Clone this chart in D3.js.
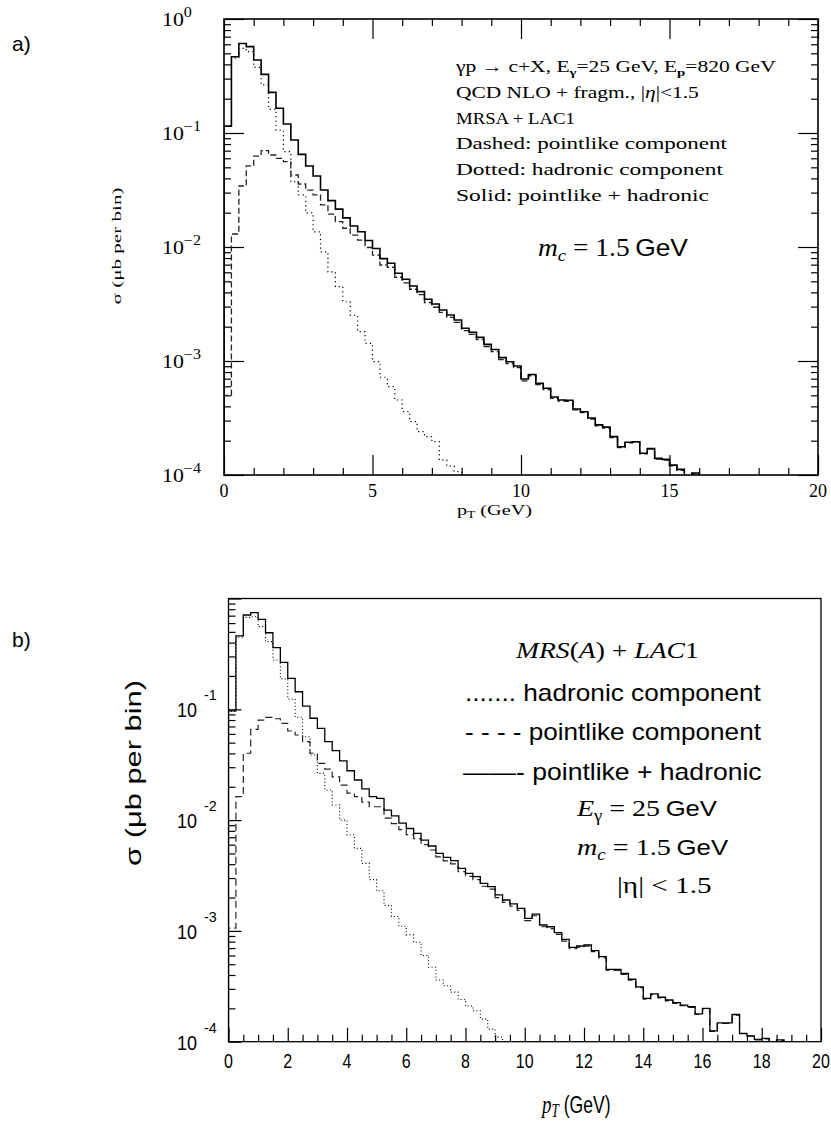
<!DOCTYPE html>
<html><head><meta charset="utf-8">
<script src="https://cdn.jsdelivr.net/npm/d3@7"></script>
<style>body{margin:0;background:#fff}</style>
</head><body>
<svg id="c" width="831" height="1128" xmlns="http://www.w3.org/2000/svg"></svg>
<script>
// ---------------- data ----------------
const binWidth = 0.25; // GeV
// panel a) sigma per bin (mu b), bins of 0.25 GeV starting at pT = 0
const aSolid = [0.115, 0.467, 0.61, 0.572, 0.437, 0.327, 0.227, 0.165, 0.120, 0.0868,
 0.065, 0.0514, 0.042, 0.0316, 0.0255, 0.0215, 0.0180, 0.0153, 0.0136, 0.0114,
 0.0097, 0.0079, 0.0072, 0.00588, 0.00521, 0.00455, 0.00406, 0.00348, 0.00316, 0.0028,
 0.00253, 0.00229, 0.00194, 0.00179, 0.00161, 0.0014, 0.00126, 0.00107, 0.000986, 0.000904,
 0.000695, 0.000762, 0.000637, 0.000576, 0.000483, 0.000455, 0.000452, 0.000379, 0.000359, 0.000316,
 0.000275, 0.000263, 0.000217, 0.000177, 0.000194, 0.000196, 0.000155, 0.000171, 0.00014, 0.000137,
 0.000122, 0.000112, 0.000098, 0.000104];
const aDashed = [0.0005, 0.0130, 0.0343, 0.0514, 0.0628, 0.070, 0.0641, 0.060, 0.0561, 0.0428,
 0.0357, 0.0316, 0.0286, 0.0234, 0.0194, 0.0167, 0.0146, 0.0127, 0.0115, 0.0099,
 0.0085, 0.00695, 0.00664, 0.00543, 0.00485, 0.00426, 0.00382, 0.00326, 0.00296, 0.00267,
 0.00241, 0.00218, 0.00185, 0.00171, 0.00154, 0.00134, 0.00121, 0.00103, 0.00095, 0.000874,
 0.00067, 0.000742, 0.00062, 0.00056, 0.00047, 0.000445, 0.000443, 0.000372, 0.000352, 0.00031,
 0.00027, 0.000258, 0.000213, 0.000174, 0.000191, 0.000193, 0.000153, 0.000169, 0.000138, 0.000135,
 0.00012, 0.00011, 0.000097, 0.000103];
const aDotted = [0.114, 0.454, 0.553, 0.517, 0.377, 0.264, 0.162, 0.106, 0.0686, 0.0374,
 0.0286, 0.0199, 0.0136, 0.00908, 0.00604, 0.00449, 0.00331, 0.00253, 0.00181, 0.00143,
 0.000986, 0.00072, 0.000596, 0.000455, 0.00036, 0.000294, 0.00024, 0.000217, 0.000196, 0.000135,
 0.00012, 0.000107];
// panel b)
const bSolid = [0.0966, 0.459, 0.71, 0.745, 0.649, 0.491, 0.36, 0.265, 0.19, 0.144,
 0.107, 0.083, 0.0674, 0.051, 0.0423, 0.0343, 0.0279, 0.023, 0.0191, 0.0163,
 0.0157, 0.0123, 0.0109, 0.0094, 0.0084, 0.0076, 0.0066, 0.00584, 0.00501, 0.00461,
 0.0043, 0.00367, 0.00331, 0.00309, 0.00269, 0.00251, 0.00211, 0.0019, 0.00175, 0.0016,
 0.0013, 0.00142, 0.00113, 0.00109, 0.000964, 0.00084, 0.000711, 0.000731, 0.000746, 0.000663,
 0.000585, 0.00045, 0.00045, 0.000414, 0.000366, 0.000313, 0.000246, 0.00027, 0.000252, 0.000238,
 0.000225, 0.000214, 0.000207, 0.000178, 0.0002, 0.000125, 0.000148, 0.000148, 0.000176, 0.000119,
 0.000113, 0.000105, 0.000107, 0.0000995, 0.000104];
const bDashed = [0.00106, 0.0163, 0.0401, 0.066, 0.080, 0.0847, 0.0822, 0.0747, 0.0637, 0.0586,
 0.051, 0.0401, 0.0325, 0.0289, 0.0246, 0.0207, 0.0175, 0.0163, 0.0145, 0.0132,
 0.0132, 0.0104, 0.0093, 0.0082, 0.0074, 0.0068, 0.0060, 0.00537, 0.00465, 0.00429,
 0.00402, 0.00343, 0.0031, 0.0029, 0.00253, 0.00238, 0.002, 0.00181, 0.00167, 0.00153,
 0.00124, 0.00137, 0.00109, 0.00105, 0.00093, 0.00081, 0.00069, 0.00071, 0.00073, 0.00065,
 0.00057, 0.00044, 0.00044, 0.000405, 0.00036, 0.000308, 0.000242, 0.000266, 0.000248, 0.000234,
 0.000222, 0.000211, 0.000204, 0.000176, 0.000198, 0.000124, 0.000146, 0.000146, 0.000174, 0.000118,
 0.000112, 0.000104, 0.000106, 0.0000985, 0.000103];
const bDotted = [0.0956, 0.447, 0.676, 0.685, 0.557, 0.408, 0.279, 0.188, 0.124, 0.0847,
 0.0566, 0.0387, 0.0264, 0.0187, 0.0137, 0.0100, 0.00734, 0.00556, 0.00407, 0.0029,
 0.0023, 0.0017, 0.00135, 0.0011, 0.00092, 0.00079, 0.0006, 0.00047, 0.00036, 0.00032,
 0.00028, 0.00024, 0.00021, 0.00019, 0.00016, 0.00013, 0.00011, 0.00009];

const aXTickLabels = [0, 5, 10, 15, 20];
const aYExponents = [0, -1, -2, -3, -4];
const bXTickLabels = [0, 2, 4, 6, 8, 10, 12, 14, 16, 18, 20];
const bYExponents = [-1, -2, -3, -4];

// ---------------- drawing ----------------
const svg = d3.select("#c");
svg.append("rect").attr("width", 831).attr("height", 1128).attr("fill", "#fff");
const SERIF = "'Liberation Serif','Times New Roman',serif";
const SANS = "'Liberation Sans',Arial,Helvetica,sans-serif";

function fit(t, target, ax) {
  const w = t.node().getBBox().width;
  const s = target / w;
  t.attr("transform", `translate(${ax},0) scale(${s},1) translate(${-ax},0)`);
}
function minorLog() {
  const v = [];
  for (let e = -4; e < 0; e++) for (let k = 2; k <= 9; k++) v.push(k * Math.pow(10, e));
  return v;
}
const decades = [1e-4, 1e-3, 1e-2, 1e-1, 1];

function histPath(x, y, vals) {
  const floor = 1e-6;
  const pts = [[0, floor]];
  vals.forEach((v, i) => pts.push([i * binWidth, v]));
  pts.push([vals.length * binWidth, floor]);
  return d3.line().x(d => x(d[0])).y(d => y(d[1])).curve(d3.curveStepAfter)(pts);
}

// ======== Panel a ========
const xA = d3.scaleLinear().domain([0, 20]).range([224, 818]);
const yA = d3.scaleLog().domain([1e-4, 1]).range([475, 19]);
const gA = svg.append("g");
svg.append("defs").append("clipPath").attr("id", "clipA").append("rect")
  .attr("x", 224).attr("y", 19).attr("width", 594).attr("height", 456);

function tickAxis(g, axis, tr) {
  const s = g.append("g").attr("transform", tr).call(axis);
  s.select(".domain").remove();
  s.selectAll("line").attr("stroke", "#000").attr("stroke-width", 1.2);
  s.selectAll("text").remove();
}
const aMinorX = d3.range(0, 21).filter(d => d % 5 !== 0);
const aMajorX = aXTickLabels;
tickAxis(gA, d3.axisBottom(xA).tickValues(aMinorX).tickSize(-7), "translate(0,475)");
tickAxis(gA, d3.axisBottom(xA).tickValues(aMajorX).tickSize(-20), "translate(0,475)");
tickAxis(gA, d3.axisTop(xA).tickValues(aMinorX).tickSize(-7), "translate(0,19)");
tickAxis(gA, d3.axisTop(xA).tickValues(aMajorX).tickSize(-20), "translate(0,19)");
tickAxis(gA, d3.axisLeft(yA).tickValues(minorLog()).tickSize(-7), "translate(224,0)");
tickAxis(gA, d3.axisLeft(yA).tickValues(decades).tickSize(-20), "translate(224,0)");
tickAxis(gA, d3.axisRight(yA).tickValues(minorLog()).tickSize(-7), "translate(818,0)");
tickAxis(gA, d3.axisRight(yA).tickValues(decades).tickSize(-20), "translate(818,0)");

const curvesA = gA.append("g").attr("clip-path", "url(#clipA)").attr("fill", "none");
curvesA.append("path").attr("d", histPath(xA, yA, aDotted)).attr("stroke", "#000")
  .attr("stroke-width", 1.2).attr("stroke-dasharray", "1.2,3.2");
curvesA.append("path").attr("d", histPath(xA, yA, aDashed)).attr("stroke", "#222")
  .attr("stroke-width", 1.3).attr("stroke-dasharray", "6,3");
curvesA.append("path").attr("d", histPath(xA, yA, aSolid)).attr("stroke", "#000")
  .attr("stroke-width", 1.6);

gA.append("rect").attr("x", 224).attr("y", 19).attr("width", 594).attr("height", 456)
  .attr("fill", "none").attr("stroke", "#000").attr("stroke-width", 1.6);

// tick labels a
gA.selectAll("text.xl").data(aXTickLabels).enter().append("text")
  .attr("x", d => xA(d)).attr("y", 497).attr("text-anchor", "middle")
  .attr("font-family", SERIF).attr("font-size", 18).text(d => d);
aYExponents.forEach(e => {
  const t = gA.append("text").attr("x", 162).attr("y", yA(Math.pow(10, e)) + 7)
    .attr("font-family", SERIF).attr("font-size", 19);
  t.append("tspan").text("10");
  t.append("tspan").attr("dy", -9).attr("font-size", 14).text(e === 0 ? "0" : "\u2212" + (-e));
  const w = t.node().getBBox().width;
  fit(t, w * 1.15, 162);
});

// axis titles a
{
  const t = gA.append("text").attr("x", 457).attr("y", 515).attr("font-family", SERIF).attr("font-size", 15);
  t.append("tspan").text("p");
  t.append("tspan").attr("font-size", 10).attr("dy", 3).text("T");
  t.append("tspan").attr("dy", -3).text(" (GeV)");
  fit(t, 75, 457);
  const g = gA.append("g").attr("transform", "translate(121,246) rotate(-90)");
  const r = g.append("text").attr("x", 0).attr("y", 0).attr("text-anchor", "middle")
    .attr("font-family", SERIF).attr("font-size", 13).text("\u03c3 (\u03bcb per bin)");
  fit(r, 117, 0);
}
// legend a
{
  const lx = 456, base = 72, step = 25.8;
  const widths = [322, 243, 119, 272, 268, 253];
  const lines = [];
  for (let i = 0; i < 6; i++) lines.push(gA.append("text").attr("x", lx).attr("y", base + i * step)
    .attr("font-family", SERIF).attr("font-size", 16));
  let t = lines[0];
  t.append("tspan").text("\u03b3p \u2192 c+X, E");
  t.append("tspan").attr("font-size", 11).attr("font-weight", "bold").attr("dy", 4).text("\u03b3");
  t.append("tspan").attr("dy", -4).text("=25 GeV, E");
  t.append("tspan").attr("font-size", 11).attr("font-weight", "bold").attr("dy", 4).text("p");
  t.append("tspan").attr("dy", -4).text("=820 GeV");
  t = lines[1];
  t.append("tspan").text("QCD NLO + fragm., |");
  t.append("tspan").attr("font-style", "italic").text("\u03b7");
  t.append("tspan").text("|<1.5");
  lines[2].text("MRSA + LAC1");
  lines[3].text("Dashed: pointlike component");
  lines[4].text("Dotted: hadronic component");
  lines[5].text("Solid: pointlike + hadronic");
  lines.forEach((l, i) => fit(l, widths[i], lx));

  const m = gA.append("text").attr("x", 538).attr("y", 256).attr("font-family", SERIF).attr("font-size", 25);
  m.append("tspan").attr("font-style", "italic").text("m");
  m.append("tspan").attr("font-style", "italic").attr("font-size", 17).attr("dy", 5).text("c");
  m.append("tspan").attr("dy", -5).text(" = 1.5\u2009");
  m.append("tspan").attr("font-family", SANS).attr("font-size", 24).text("GeV");
  fit(m, 150, 538);
}
svg.append("text").attr("x", 12).attr("y", 51).attr("font-family", SANS).attr("font-size", 21).text("a)");

// ======== Panel b ========
const xB = d3.scaleLinear().domain([0, 20]).range([228.5, 821]);
const yB = d3.scaleLog().domain([1e-4, 1]).range([1041.7, 598.5]);
const gB = svg.append("g");
svg.select("defs").append("clipPath").attr("id", "clipB").append("rect")
  .attr("x", 228.5).attr("y", 598.5).attr("width", 592.5).attr("height", 443.2);

const bMinorX = d3.range(0, 41).map(d => d / 2).filter(d => d % 2 !== 0);
tickAxis(gB, d3.axisBottom(xB).tickValues(bMinorX).tickSize(-7), "translate(0,1041.7)");
tickAxis(gB, d3.axisBottom(xB).tickValues(bXTickLabels).tickSize(-14), "translate(0,1041.7)");
tickAxis(gB, d3.axisLeft(yB).tickValues(minorLog()).tickSize(-7), "translate(228.5,0)");
tickAxis(gB, d3.axisLeft(yB).tickValues(decades).tickSize(-13), "translate(228.5,0)");

const curvesB = gB.append("g").attr("clip-path", "url(#clipB)").attr("fill", "none");
curvesB.append("path").attr("d", histPath(xB, yB, bDotted)).attr("stroke", "#000")
  .attr("stroke-width", 1.1).attr("stroke-dasharray", "1,2.4");
curvesB.append("path").attr("d", histPath(xB, yB, bDashed)).attr("stroke", "#222")
  .attr("stroke-width", 1.2).attr("stroke-dasharray", "7,4");
curvesB.append("path").attr("d", histPath(xB, yB, bSolid)).attr("stroke", "#000")
  .attr("stroke-width", 1.3);

gB.append("rect").attr("x", 228.5).attr("y", 598.5).attr("width", 592.5).attr("height", 443.2)
  .attr("fill", "none").attr("stroke", "#000").attr("stroke-width", 1.3);

bXTickLabels.forEach(d => {
  const t = gB.append("text").attr("x", xB(d)).attr("y", 1068).attr("text-anchor", "middle")
    .attr("font-family", SANS).attr("font-size", 20).text(d);
  const w = t.node().getBBox().width;
  fit(t, w * 0.8, xB(d));
});
bYExponents.forEach(e => {
  const yy = yB(Math.pow(10, e));
  const t = gB.append("text").attr("x", 177).attr("y", yy + 8).attr("font-family", SANS)
    .attr("font-size", 21).text("10");
  fit(t, 20, 177);
  const s = gB.append("text").attr("x", 204).attr("y", yy - 9).attr("font-family", SANS)
    .attr("font-size", 14).text("-" + (-e));
  fit(s, 13, 204);
});
{
  const t = gB.append("text").attr("x", 542).attr("y", 1113).attr("font-family", SERIF).attr("font-size", 26);
  t.append("tspan").attr("font-style", "italic").text("p");
  t.append("tspan").attr("font-style", "italic").attr("font-size", 18).attr("dy", 4).text("T");
  t.append("tspan").attr("dy", -4).attr("font-family", SANS).attr("font-size", 24).text(" (GeV)");
  fit(t, 70, 542);
  const g = gB.append("g").attr("transform", "translate(141,773) rotate(-90)");
  const r = g.append("text").attr("x", 0).attr("y", 0).attr("text-anchor", "middle")
    .attr("font-family", SANS).attr("font-size", 22).text("\u03c3 (\u03bcb per bin)");
  fit(r, 186, 0);
}
// legend b
{
  const h = gB.append("text").attr("x", 516).attr("y", 658).attr("font-family", SERIF).attr("font-size", 24);
  h.append("tspan").attr("font-style", "italic").text("MRS");
  h.append("tspan").text("(");
  h.append("tspan").attr("font-style", "italic").text("A");
  h.append("tspan").text(") + ");
  h.append("tspan").attr("font-style", "italic").text("LAC");
  h.append("tspan").text("1");
  fit(h, 184, 516);
  const items = [["....... hadronic component", 465, 701.5], ["- - - - pointlike component", 465, 740.5],
                 ["\u2014\u2014- pointlike + hadronic", 463, 780]];
  items.forEach(([s, x, y]) => {
    const t = gB.append("text").attr("x", x).attr("y", y).attr("font-family", SANS).attr("font-size", 23).text(s);
    fit(t, 761.7 - x, x);
  });
  let t = gB.append("text").attr("x", 577).attr("y", 816).attr("font-family", SERIF).attr("font-size", 24);
  t.append("tspan").attr("font-style", "italic").text("E");
  t.append("tspan").attr("font-size", 16).attr("dy", 5).text("\u03b3");
  t.append("tspan").attr("dy", -5).text(" = 25\u2009");
  t.append("tspan").attr("font-family", SANS).attr("font-size", 22).text("GeV");
  fit(t, 141.6, 577);
  t = gB.append("text").attr("x", 577).attr("y", 855).attr("font-family", SERIF).attr("font-size", 24);
  t.append("tspan").attr("font-style", "italic").text("m");
  t.append("tspan").attr("font-style", "italic").attr("font-size", 16).attr("dy", 5).text("c");
  t.append("tspan").attr("dy", -5).text(" = 1.5\u2009");
  t.append("tspan").attr("font-family", SANS).attr("font-size", 22).text("GeV");
  fit(t, 151.6, 577);
  t = gB.append("text").attr("x", 617).attr("y", 892.7).attr("font-family", SERIF).attr("font-size", 24)
    .text("|\u03b7| < 1.5");
  fit(t, 94.7, 617);
}
svg.append("text").attr("x", 12).attr("y", 647).attr("font-family", SANS).attr("font-size", 21).text("b)");
</script>
</body></html>
